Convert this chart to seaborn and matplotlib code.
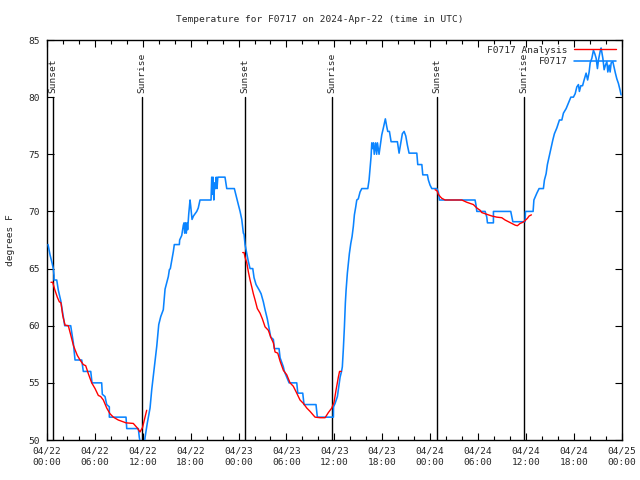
import matplotlib
matplotlib.use("Agg")
import matplotlib.pyplot as plt
import seaborn as sns
import pandas as pd
from matplotlib.lines import Line2D

# ---- data (hours since 04/22 00:00 UTC, degrees F) ----
obs_hours = [
    0.13, 0.38, 0.63, 0.79, 0.88, 0.88, 1.22, 1.42, 1.72, 1.97, 2.22, 2.97, 3.30, 3.51, 4.35, 4.55,
    5.48, 5.64, 6.85, 6.93, 7.27, 7.48, 7.81, 7.81, 9.90, 9.99, 11.44, 11.57, 11.75, 12.2, 12.28,
    12.57, 12.91, 13.12, 13.45, 13.75, 14.0, 14.25, 14.57, 14.79, 15.2, 15.33, 15.45,
    15.83, 15.95, 16.58, 16.62, 16.88, 17.08, 17.17, 17.25, 17.35, 17.45, 17.55, 17.62, 17.76, 17.92,
    18.0, 18.17, 18.35, 18.55, 18.76, 18.95, 19.17, 20.55, 20.64, 20.7, 20.8, 20.9, 21.0, 21.1, 21.2,
    21.3, 21.4, 21.68, 22.3, 22.52, 23.47, 23.68, 23.97, 24.19, 24.4, 24.6, 24.69, 24.81, 25.03,
    25.23, 25.44, 25.78, 25.94, 26.19, 26.6, 26.82, 27.1, 27.32, 27.6, 27.86, 28.03, 28.36, 28.48,
    29.07, 29.2, 29.61, 29.74, 30.04, 30.33, 31.29, 31.42, 32.04, 32.2, 33.7, 33.87, 35.88, 35.9,
    36.09, 36.38, 36.72, 36.9, 37.0, 37.13, 37.26, 37.38, 37.47, 37.63, 37.76, 37.88, 38.06, 38.22,
    38.38, 38.51, 38.68, 38.81, 39.0, 39.22, 39.44, 40.19, 40.35, 40.48, 40.6, 40.69, 40.8, 40.9,
    41.0, 41.17, 41.3, 41.4, 41.6, 41.94, 42.14, 42.39, 42.57, 42.69, 42.9, 43.11, 43.9, 44.11,
    44.32, 44.52, 44.74, 44.95, 45.15, 45.36, 46.33, 46.45, 46.96, 47.08, 47.66, 47.78, 47.99,
    48.21, 48.83, 49.03, 49.16, 53.63, 53.76, 53.85, 54.89, 55.1, 55.18, 55.93, 55.93, 58.1, 58.36,
    59.9, 59.94, 60.9, 61.0, 61.37, 61.65, 62.19, 62.32, 62.53, 62.69, 62.94, 63.12, 63.37, 63.57,
    63.87, 64.2, 64.5, 64.7, 65.04, 65.33, 65.63, 65.95, 66.17, 66.38, 66.58, 66.7, 66.88, 67.1,
    67.29, 67.54, 67.73, 67.92, 68.05, 68.26, 68.46, 68.63, 68.8, 68.96, 69.09, 69.3, 69.42, 69.64,
    69.8, 69.96, 70.14, 70.26, 70.43, 70.55, 70.68, 70.89, 71.21, 71.39, 71.59, 71.8, 71.92,
]
obs_temp = [
    67.1, 66.2, 65.5, 65.0, 64.4, 64.0, 64.0, 63.1, 62.2, 61.1, 60.0, 60.0, 58.5, 57.0, 57.0, 56.0,
    56.0, 55.0, 55.0, 54.0, 53.8, 53.1, 52.9, 52.0, 52.0, 51.0, 51.0, 50.2, 49.6, 49.6, 50.2,
    51.5, 52.8, 54.4, 56.4, 58.2, 60.1, 60.8, 61.4, 63.2, 64.3, 64.9, 65.0,
    66.5, 67.1, 67.1, 67.5, 67.9, 68.8, 69.0, 68.1, 69.0, 68.1, 69.0, 68.4, 69.8, 71.0,
    70.5, 69.3, 69.6, 69.8, 70.0, 70.3, 71.0, 71.0, 73.0, 71.5, 73.0, 71.0, 72.5, 72.0, 73.0,
    72.0, 73.0, 73.0, 73.0, 72.0, 72.0, 71.4, 70.6, 70.0, 69.3, 68.1, 68.0, 67.1, 66.3,
    65.6, 65.0, 65.0, 64.2, 63.6, 63.1, 62.8, 62.1, 61.4, 60.6, 59.6, 59.0, 58.8, 58.0,
    58.0, 57.2, 56.4, 56.0, 55.5, 55.0, 55.0, 54.1, 54.1, 53.1, 53.1, 52.0, 52.0, 52.9,
    53.2, 53.8, 55.5, 56.0, 56.4, 58.0, 59.9, 62.0, 63.1, 64.6, 65.5, 66.3, 67.2, 67.8,
    68.7, 69.7, 70.4, 71.0, 71.1, 71.7, 72.0, 72.0, 72.75, 73.8, 74.8, 76.0, 75.5, 76.0,
    75.0, 76.0, 75.0, 76.0, 75.0, 76.7, 77.3, 78.1, 77.4, 77.0, 77.0, 76.1, 76.1, 75.1,
    76.0, 76.8, 77.0, 76.6, 75.8, 75.1, 75.1, 74.1, 74.1, 73.2, 73.2, 72.75, 72.3,
    72.0, 72.0, 71.7, 71.0, 71.0, 70.5, 70.0, 70.0, 69.5, 69.0, 69.0, 70.0, 70.0, 69.1,
    69.1, 70.0, 70.0, 71.0, 71.6, 72.0, 72.0, 72.75, 73.3, 74.1, 74.9, 75.5, 76.25, 76.8,
    77.3, 78.0, 78.0, 78.6, 79.0, 79.5, 80.0, 80.0, 80.3, 80.9, 81.1, 80.5, 81.0, 81.0,
    81.5, 82.1, 81.5, 82.2, 83.0, 83.4, 84.1, 83.8, 83.4, 82.5, 83.25, 84.0, 84.3, 83.4,
    82.4, 82.8, 83.1, 82.2, 82.8, 82.2, 83.0, 83.1, 82.1, 81.6, 81.2, 80.6, 80.2,
]

ana1_hours = [0.5, 0.71, 1.0, 1.29, 1.54, 1.75, 1.97, 2.26, 2.67, 2.97, 3.3, 3.51, 3.8, 4.14, 4.55,
              4.85, 5.18, 5.6, 6.02, 6.43, 6.73, 7.06, 7.48, 7.89, 8.31, 8.93, 9.9, 10.81, 11.32,
              11.65, 11.97, 12.28, 12.49]
ana1_temp = [63.8, 63.8, 63.1, 62.5, 62.1, 62.0, 60.9, 60.05, 60.0, 59.2, 58.3, 57.9, 57.4, 57.0, 56.6,
             56.5, 55.8, 55.0, 54.5, 53.9, 53.8, 53.5, 52.8, 52.3, 52.0, 51.75, 51.5, 51.45, 51.05,
             50.7, 51.1, 52.0, 52.6]
ana2_hours = [24.52, 24.69, 24.81, 25.03, 25.23, 25.44, 25.65, 25.85, 26.07, 26.35, 26.69, 26.98,
              27.32, 27.73, 28.03, 28.36, 28.57, 28.91, 29.2, 29.61, 30.04, 30.45, 30.86, 31.29,
              31.7, 32.12, 32.54, 32.96, 33.58, 34.21, 34.84, 35.25, 35.68, 35.96, 36.22, 36.5,
              36.65, 36.87]
ana2_temp = [66.4, 66.4, 66.0, 65.5, 64.7, 64.0, 63.4, 62.8, 62.25, 61.5, 61.1, 60.6,
             59.9, 59.6, 59.0, 58.5, 57.7, 57.6, 56.9, 56.1, 55.7, 55.0, 54.7, 54.1,
             53.5, 53.2, 52.8, 52.5, 52.0, 51.95, 51.95, 52.4, 52.8, 53.3, 54.4, 55.5,
             56.0, 56.0]
ana3_hours = [48.62, 48.87, 49.03, 49.25, 49.46, 49.87, 51.97, 52.6, 53.01, 53.42, 53.85, 54.26,
              54.47, 54.89, 55.3, 55.73, 56.35, 56.98, 57.39, 57.81, 58.23, 58.65, 58.93, 59.27,
              59.62, 59.9, 60.19, 60.4, 60.69]
ana3_temp = [71.9, 71.8, 71.5, 71.3, 71.15, 71.0, 71.0, 70.8, 70.7, 70.6, 70.3, 70.1,
             69.9, 69.8, 69.7, 69.6, 69.5, 69.45, 69.25, 69.1, 68.95, 68.8, 68.75, 68.95,
             69.05, 69.2, 69.4, 69.6, 69.7]

sun_hours = [0.78, 11.85, 24.75, 35.75, 48.8, 59.8]
sun_labels = ["Sunset", "Sunrise", "Sunset", "Sunrise", "Sunset", "Sunrise"]

xtick_hours = [0, 6, 12, 18, 24, 30, 36, 42, 48, 54, 60, 66, 72]
xtick_labels = ["04/22\n00:00", "04/22\n06:00", "04/22\n12:00", "04/22\n18:00",
                "04/23\n00:00", "04/23\n06:00", "04/23\n12:00", "04/23\n18:00",
                "04/24\n00:00", "04/24\n06:00", "04/24\n12:00", "04/24\n18:00",
                "04/25\n00:00"]
ytick_values = [50, 55, 60, 65, 70, 75, 80, 85]

title = "Temperature for F0717 on 2024-Apr-22 (time in UTC)"
station = "F0717"

# ---- style ----
sns.set_style("ticks")
plt.rcParams["font.family"] = ["DejaVu Sans Mono"]
FS = 6.8
BLUE = "#0a84ff"
RED = "#ff0000"

fig = plt.figure(figsize=(6.4, 4.8), dpi=100)
ax = fig.add_axes([47 / 640, 40 / 480, (621.7 - 47) / 640, 400 / 480])

obs = pd.DataFrame({"hours": obs_hours, "temp": obs_temp})
sns.lineplot(data=obs, x="hours", y="temp", ax=ax, color=BLUE, lw=1.15,
             sort=False, estimator=None, zorder=3)
for hh, tt in [(ana1_hours, ana1_temp), (ana2_hours, ana2_temp), (ana3_hours, ana3_temp)]:
    d = pd.DataFrame({"hours": hh, "temp": tt})
    sns.lineplot(data=d, x="hours", y="temp", ax=ax, color=RED, lw=1.0,
                 sort=False, estimator=None, zorder=4)

for sh, lab in zip(sun_hours, sun_labels):
    ax.plot([sh, sh], [50, 80], color="black", lw=1.0, zorder=2)
    ax.text(sh, 80.35, lab, rotation=90, ha="center", va="bottom", fontsize=FS, zorder=5)

ax.set_xlim(0, 72)
ax.set_ylim(50, 85)
ax.set_xticks(xtick_hours)
ax.set_xticklabels(xtick_labels, fontsize=FS, linespacing=1.3)
ax.set_xticks(range(0, 73, 2), minor=True)
ax.set_yticks(ytick_values)
ax.set_yticklabels([str(v) for v in ytick_values], fontsize=FS)
ax.tick_params(which="both", direction="in", top=True, right=True, color="black", width=0.8)
ax.tick_params(which="major", length=5, pad=5)
ax.tick_params(which="minor", length=3)
ax.set_xlabel("")
ax.set_ylabel("degrees F", fontsize=FS, labelpad=10)
for s in ax.spines.values():
    s.set_color("black")
    s.set_linewidth(1.0)
fig.text(0.5, 1 - 20 / 480, title, fontsize=FS, ha="center", va="center")

handles = [Line2D([], [], color=RED, lw=1.0), Line2D([], [], color=BLUE, lw=1.15)]
ax.legend(handles, [station + " Analysis", station], loc="upper right", frameon=False,
          markerfirst=False, fontsize=FS, handlelength=4.4, handletextpad=0.7,
          borderaxespad=0.2, labelspacing=0.25, bbox_to_anchor=(1.0, 1.0))

fig.savefig("out.png", dpi=100, facecolor="white")
